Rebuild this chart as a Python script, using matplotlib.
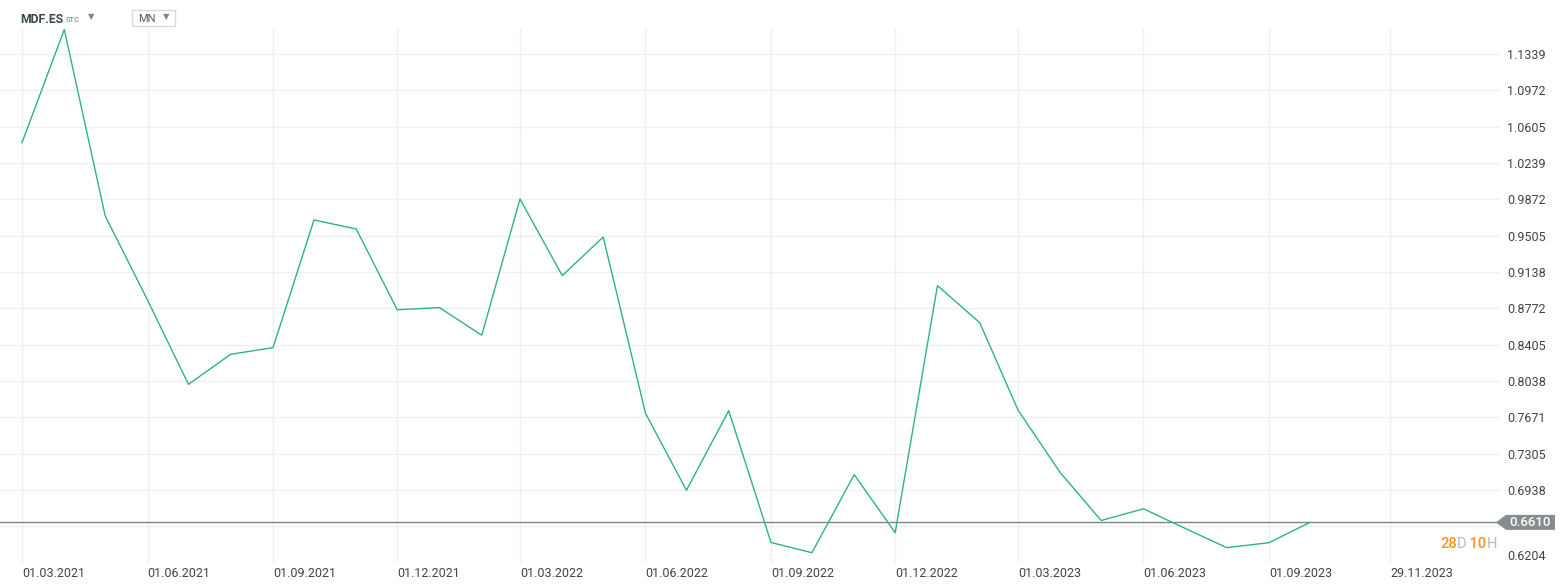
import datetime as dt
import matplotlib
matplotlib.use("Agg")
import matplotlib.pyplot as plt
import matplotlib.transforms as mtrans
from matplotlib.patches import Rectangle, Polygon
import pandas as pd

plt.rcParams['font.family'] = ['Roboto', 'DejaVu Sans']

# datos mensuales (cierre)
fechas = pd.date_range('2021-03-01', periods=32, freq='MS')
precios = [1.0443, 1.1586, 0.9703, 0.8855, 0.8004, 0.8307, 0.8374, 0.9663,
           0.9572, 0.8757, 0.8778, 0.8499, 0.9875, 0.9101, 0.9491, 0.7712,
           0.6934, 0.7738, 0.6407, 0.6304, 0.7092, 0.6506, 0.9000, 0.8626,
           0.7745, 0.7112, 0.6629, 0.6747, 0.6553, 0.6355, 0.6405, 0.6610]
ultimo = 0.6610

fechas_eje = ['01.03.2021', '01.06.2021', '01.09.2021', '01.12.2021',
              '01.03.2022', '01.06.2022', '01.09.2022', '01.12.2022',
              '01.03.2023', '01.06.2023', '01.09.2023', '29.11.2023']
niveles = [0.6204, 0.6571, 0.6938, 0.7305, 0.7671, 0.8038, 0.8405, 0.8772,
           0.9138, 0.9505, 0.9872, 1.0239, 1.0605, 1.0972, 1.1339]
etiquetas_y = ['0.6204', '', '0.6938', '0.7305', '0.7671', '0.8038', '0.8405',
               '0.8772', '0.9138', '0.9505', '0.9872', '1.0239', '1.0605',
               '1.0972', '1.1339']

W, H = 1566, 588
fig = plt.figure(figsize=(W / 100, H / 100), dpi=100)
ax = fig.add_axes([0, 25 / H, 1500 / W, (563 - 28) / H])

ax.plot(fechas, precios, color='#2db57f', lw=1.0, zorder=3, clip_on=False)
ax.axhline(ultimo, color='#7b8686', lw=1.0, zorder=2)

# eje x
ticks_x = [dt.datetime.strptime(f, '%d.%m.%Y') for f in fechas_eje]
inicio = dt.datetime(2021, 3, 1)
px_dia = 1247 / 914
ax.set_xlim(inicio - dt.timedelta(days=22 / px_dia),
            inicio + dt.timedelta(days=(1500 - 22) / px_dia))
ax.set_xticks(ticks_x)
ax.set_xticklabels(fechas_eje, ha='left')
ax.tick_params(axis='x', length=0, pad=3, labelsize=9, labelcolor='#444444')

# eje y a la derecha
ax.set_ylim(0.6200, 1.1601)
ax.yaxis.tick_right()
ax.set_yticks(niveles)
ax.set_yticklabels(etiquetas_y)
ax.tick_params(axis='y', length=0, pad=5, labelsize=9, labelcolor='#444444')
for lab in ax.get_yticklabels():
    lab.set_horizontalalignment('left')
ax.get_yticklabels()[0].set_verticalalignment('bottom')

ax.grid(True, color='#f0f0f0', lw=1.0, zorder=0)
for s in ax.spines.values():
    s.set_visible(False)

# etiqueta del ultimo precio (flecha gris a la derecha)
fig.canvas.draw()
y_px = ax.transData.transform((0, ultimo))[1]
tag = [(1496, y_px), (1506, y_px + 7.5), (1555, y_px + 7.5),
       (1555, y_px - 7.5), (1506, y_px - 7.5)]
fig.patches.append(Polygon([(x / W, y / H) for x, y in tag], closed=True,
                           transform=fig.transFigure, fc='#848e8e', ec='none'))
fig.text(1530 / W, y_px / H, '0.6610', color='white', fontsize=9.5,
         fontweight='medium', ha='center', va='center')

# tiempo restante
t1 = fig.text(1440 / W, 1 - 548 / H, '28', color='#f7931e', fontsize=10.5,
              fontweight='medium', va='baseline')
t2 = ax.annotate('D', xy=(1, 0), xycoords=t1, color='#b9b9b9', fontsize=10.5,
                 va='bottom')
t3 = ax.annotate(' 10', xy=(1, 0), xycoords=t2, color='#f7931e', fontsize=10.5,
                 fontweight='medium', va='bottom')
ax.annotate('H', xy=(1, 0), xycoords=t3, color='#b9b9b9', fontsize=10.5,
            va='bottom')

# cabecera
fig.text(20 / W, 1 - 23 / H, 'MDF.ES', color='#3a4750', fontsize=8.8,
         fontweight='bold', va='baseline')
fig.text(66 / W, 1 - 22 / H, 'STC', color='#707c86', fontsize=5.5,
         va='baseline')
fig.text(91 / W, 1 - 17 / H, '\u25bc', color='#7d868c', fontsize=6,
         ha='center', va='center', family='DejaVu Sans')
fig.patches.append(Rectangle((132 / W, 1 - 26 / H), 43 / W, 16 / H,
                             transform=fig.transFigure, fc='white',
                             ec='#d9d9d9', lw=1.0))
fig.text(138 / W, 1 - 22 / H, 'MN', color='#555f66', fontsize=8,
         va='baseline')
fig.text(166 / W, 1 - 17 / H, '\u25bc', color='#7d868c', fontsize=6,
         ha='center', va='center', family='DejaVu Sans')

fig.savefig('out.png', dpi=100)
